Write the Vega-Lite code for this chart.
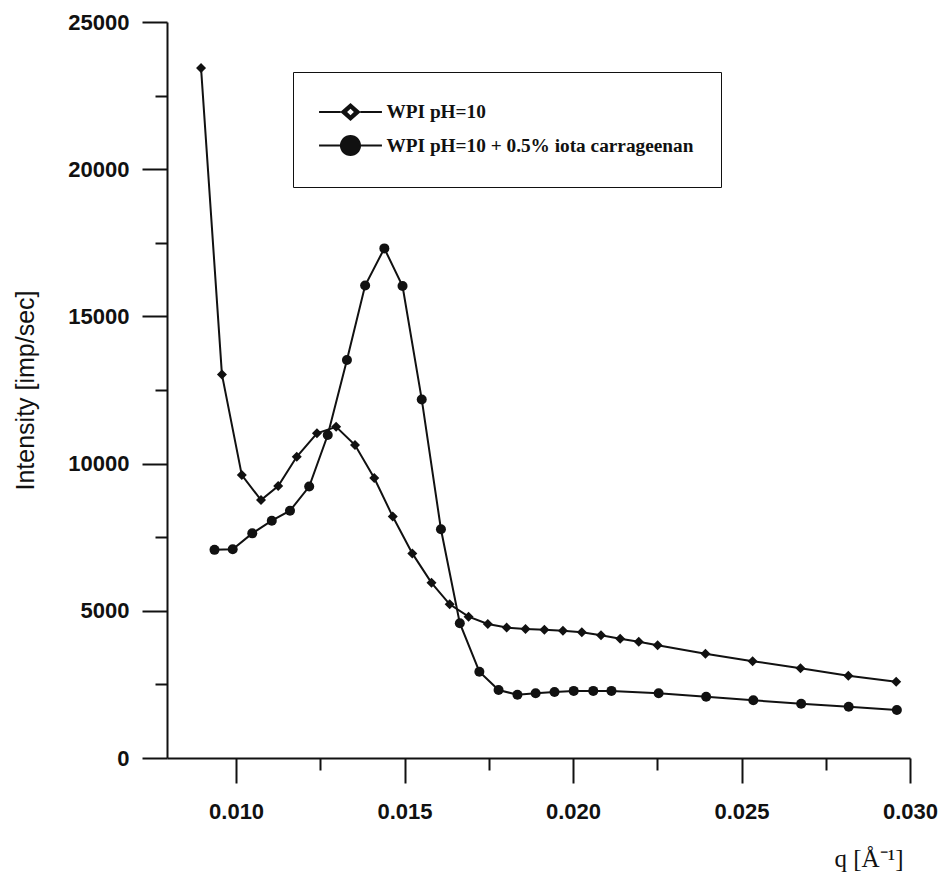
{
  "$schema": "https://vega.github.io/schema/vega-lite/v6.json",
  "width": 743,
  "height": 736,
  "autosize": {"type": "none"},
  "padding": {"left": 167, "top": 22, "right": 35, "bottom": 116},
  "background": "white",
  "config": {
    "view": {"stroke": null},
    "axis": {"grid": false, "domainColor": "#111", "tickColor": "#111", "domainWidth": 2, "tickWidth": 2, "labelColor": "#111", "titleColor": "#111"}
  },
  "data": {"values": [
    {"series": "WPI pH=10", "q": 0.00896, "I": 23440},
    {"series": "WPI pH=10", "q": 0.00958, "I": 13030},
    {"series": "WPI pH=10", "q": 0.01017, "I": 9610},
    {"series": "WPI pH=10", "q": 0.01074, "I": 8760},
    {"series": "WPI pH=10", "q": 0.01125, "I": 9240},
    {"series": "WPI pH=10", "q": 0.01180, "I": 10230},
    {"series": "WPI pH=10", "q": 0.01240, "I": 11030},
    {"series": "WPI pH=10", "q": 0.01297, "I": 11250},
    {"series": "WPI pH=10", "q": 0.01353, "I": 10630},
    {"series": "WPI pH=10", "q": 0.01410, "I": 9510},
    {"series": "WPI pH=10", "q": 0.01465, "I": 8200},
    {"series": "WPI pH=10", "q": 0.01523, "I": 6950},
    {"series": "WPI pH=10", "q": 0.01580, "I": 5950},
    {"series": "WPI pH=10", "q": 0.01634, "I": 5220},
    {"series": "WPI pH=10", "q": 0.01690, "I": 4800},
    {"series": "WPI pH=10", "q": 0.01747, "I": 4550},
    {"series": "WPI pH=10", "q": 0.01803, "I": 4430},
    {"series": "WPI pH=10", "q": 0.01859, "I": 4380},
    {"series": "WPI pH=10", "q": 0.01915, "I": 4360},
    {"series": "WPI pH=10", "q": 0.01970, "I": 4320},
    {"series": "WPI pH=10", "q": 0.02026, "I": 4270},
    {"series": "WPI pH=10", "q": 0.02083, "I": 4170},
    {"series": "WPI pH=10", "q": 0.02140, "I": 4050},
    {"series": "WPI pH=10", "q": 0.02195, "I": 3950},
    {"series": "WPI pH=10", "q": 0.02251, "I": 3830},
    {"series": "WPI pH=10", "q": 0.02393, "I": 3540},
    {"series": "WPI pH=10", "q": 0.02533, "I": 3290},
    {"series": "WPI pH=10", "q": 0.02675, "I": 3050},
    {"series": "WPI pH=10", "q": 0.02817, "I": 2790},
    {"series": "WPI pH=10", "q": 0.02959, "I": 2590},
    {"series": "WPI pH=10 + 0.5% iota carrageenan", "q": 0.00936, "I": 7070},
    {"series": "WPI pH=10 + 0.5% iota carrageenan", "q": 0.00990, "I": 7090},
    {"series": "WPI pH=10 + 0.5% iota carrageenan", "q": 0.01048, "I": 7630},
    {"series": "WPI pH=10 + 0.5% iota carrageenan", "q": 0.01106, "I": 8060},
    {"series": "WPI pH=10 + 0.5% iota carrageenan", "q": 0.01160, "I": 8400},
    {"series": "WPI pH=10 + 0.5% iota carrageenan", "q": 0.01217, "I": 9220},
    {"series": "WPI pH=10 + 0.5% iota carrageenan", "q": 0.01272, "I": 10970},
    {"series": "WPI pH=10 + 0.5% iota carrageenan", "q": 0.01329, "I": 13520},
    {"series": "WPI pH=10 + 0.5% iota carrageenan", "q": 0.01383, "I": 16050},
    {"series": "WPI pH=10 + 0.5% iota carrageenan", "q": 0.01440, "I": 17310},
    {"series": "WPI pH=10 + 0.5% iota carrageenan", "q": 0.01494, "I": 16030},
    {"series": "WPI pH=10 + 0.5% iota carrageenan", "q": 0.01551, "I": 12180},
    {"series": "WPI pH=10 + 0.5% iota carrageenan", "q": 0.01608, "I": 7770},
    {"series": "WPI pH=10 + 0.5% iota carrageenan", "q": 0.01664, "I": 4580},
    {"series": "WPI pH=10 + 0.5% iota carrageenan", "q": 0.01722, "I": 2930},
    {"series": "WPI pH=10 + 0.5% iota carrageenan", "q": 0.01779, "I": 2310},
    {"series": "WPI pH=10 + 0.5% iota carrageenan", "q": 0.01835, "I": 2150},
    {"series": "WPI pH=10 + 0.5% iota carrageenan", "q": 0.01889, "I": 2200},
    {"series": "WPI pH=10 + 0.5% iota carrageenan", "q": 0.01945, "I": 2240},
    {"series": "WPI pH=10 + 0.5% iota carrageenan", "q": 0.02002, "I": 2280},
    {"series": "WPI pH=10 + 0.5% iota carrageenan", "q": 0.02060, "I": 2280},
    {"series": "WPI pH=10 + 0.5% iota carrageenan", "q": 0.02114, "I": 2280},
    {"series": "WPI pH=10 + 0.5% iota carrageenan", "q": 0.02254, "I": 2200},
    {"series": "WPI pH=10 + 0.5% iota carrageenan", "q": 0.02395, "I": 2080},
    {"series": "WPI pH=10 + 0.5% iota carrageenan", "q": 0.02535, "I": 1960},
    {"series": "WPI pH=10 + 0.5% iota carrageenan", "q": 0.02677, "I": 1840},
    {"series": "WPI pH=10 + 0.5% iota carrageenan", "q": 0.02818, "I": 1740},
    {"series": "WPI pH=10 + 0.5% iota carrageenan", "q": 0.02961, "I": 1630}
  ]},
  "resolve": {"axis": {"x": "independent", "y": "independent"}, "scale": {"shape": "independent"}},
  "layer": [
    {
      "mark": {"type": "line", "stroke": "#111", "strokeWidth": 2},
      "encoding": {
        "x": {"field": "q", "type": "quantitative",
          "scale": {"domain": [0.00795, 0.030], "nice": false, "zero": false},
          "axis": {"orient": "bottom", "values": [0.010, 0.015, 0.020, 0.025, 0.030], "format": ".3f", "tickSize": 25, "labelPadding": 18,
            "domainWidth": 2, "tickWidth": 2,
            "labelFont": "Liberation Sans", "labelFontSize": 22, "labelFontWeight": "bold", "labelFlush": false, "labelOverlap": false,
            "title": "q [Å⁻¹]", "titleFont": "Liberation Serif", "titleFontSize": 25, "titleFontWeight": "normal",
            "titleX": 736, "titleY": 108, "titleAlign": "right", "titleBaseline": "alphabetic", "titleAnchor": "end"}},
        "y": {"field": "I", "type": "quantitative",
          "scale": {"domain": [0, 25000], "nice": false},
          "axis": {"orient": "left", "values": [0, 5000, 10000, 15000, 20000, 25000], "format": "d", "tickSize": 25, "labelPadding": 13,
            "domainWidth": 2, "tickWidth": 2,
            "labelFont": "Liberation Sans", "labelFontSize": 22, "labelFontWeight": "bold", "labelFlush": false, "labelOverlap": false,
            "title": "Intensity [imp/sec]", "titleFont": "Liberation Sans", "titleFontSize": 25, "titleFontWeight": "normal",
            "titleAngle": -90, "titleX": -134, "titleY": 368, "titleAlign": "center", "titleBaseline": "alphabetic"}},
        "detail": {"field": "series", "type": "nominal"}
      }
    },
    {
      "mark": {"type": "point", "filled": true, "color": "#111", "opacity": 1, "size": 100},
      "encoding": {
        "x": {"field": "q", "type": "quantitative",
          "axis": {"orient": "bottom", "values": [0.0125, 0.0175, 0.0225, 0.0275], "tickSize": 12, "tickWidth": 2, "labels": false, "domain": false, "title": null}},
        "y": {"field": "I", "type": "quantitative",
          "axis": {"orient": "left", "values": [2500, 7500, 12500, 17500, 22500], "tickSize": 12, "tickWidth": 2, "labels": false, "domain": false, "title": null}},
        "shape": {"field": "series", "type": "nominal",
          "scale": {"domain": ["WPI pH=10", "WPI pH=10 + 0.5% iota carrageenan"], "range": ["diamond", "circle"]},
          "legend": null}
      }
    },
    {
      "transform": [{"filter": "datum.q < 0"}],
      "mark": {"type": "point", "filled": true, "fill": "#111", "opacity": 1},
      "encoding": {
        "x": {"field": "q", "type": "quantitative", "axis": null},
        "y": {"field": "I", "type": "quantitative", "axis": null},
        "shape": {"field": "series", "type": "nominal",
          "scale": {"domain": ["WPI pH=10", "WPI pH=10 + 0.5% iota carrageenan"],
            "range": ["M-2.62,-0.08H-0.82V0.08H-2.62ZM0.82,-0.08H2.62V0.08H0.82ZM0,-0.75L0.85,0L0,0.75L-0.85,0ZM0,-0.28L-0.28,0L0,0.28L0.28,0Z",
                      "M-2.62,-0.08H-0.87V0.08H-2.62ZM0.87,-0.08H2.62V0.08H0.87ZM0.88,0A0.88,0.88,0,1,1,-0.88,0A0.88,0.88,0,1,1,0.88,0Z"]},
          "legend": {"title": null, "orient": "none", "legendX": 126, "legendY": 50,
            "strokeColor": "#111", "fillColor": "white", "padding": 27,
            "symbolSize": 576, "symbolFillColor": "#111", "symbolOpacity": 1,
            "symbolOffset": 17.5,
            "labelFont": "Liberation Serif", "labelFontWeight": "bold", "labelFontSize": 19.3, "labelColor": "#111",
            "labelOffset": 23, "rowPadding": 7.5, "labelLimit": 500,
            "encode": {
              "legend": {"update": {"strokeWidth": {"value": 2}}}}}
        }
      }
    }
  ]
}
